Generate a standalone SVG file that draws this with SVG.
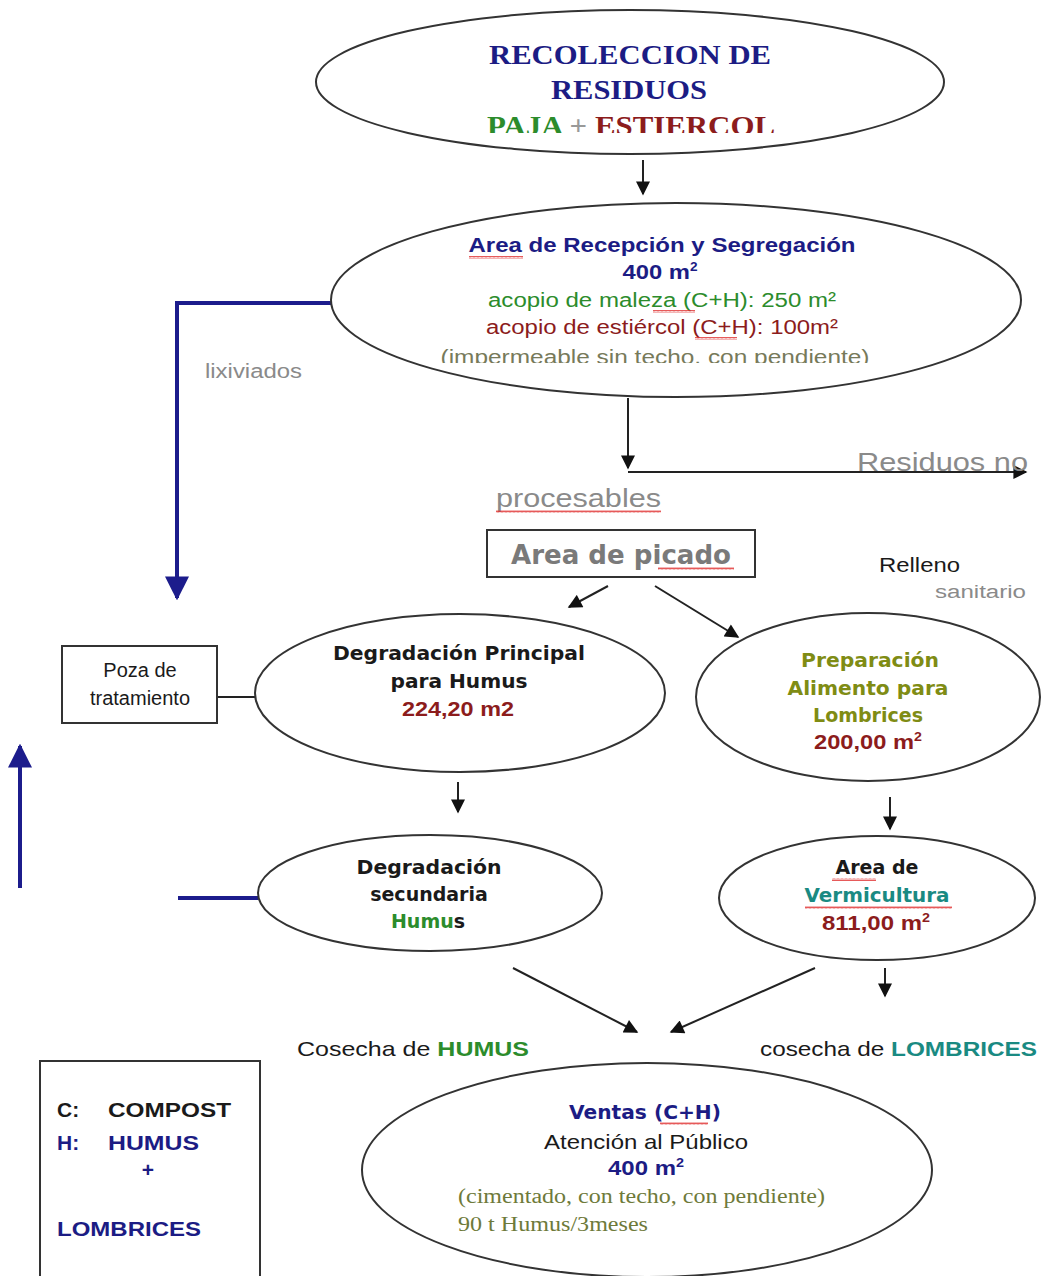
<svg xmlns="http://www.w3.org/2000/svg" width="1044" height="1276" viewBox="0 0 1044 1276">
  <style>
    .node { fill: #fff; stroke: #333; stroke-width: 2; }
    .box { fill: #fff; stroke: #333; stroke-width: 2; }
    .sans { font-family: "Liberation Sans", Arial, sans-serif; }
    .verd { font-family: "DejaVu Sans", Verdana, sans-serif; font-weight: bold; }
    .serif { font-family: "Liberation Serif", "Times New Roman", serif; }
    .b { font-weight: bold; }
    .navy { fill: #1c1c84; }
    .green { fill: #2c8c2c; }
    .red { fill: #8c1c1c; }
    .olive { fill: #7f8c14; }
    .teal { fill: #1a8a82; }
    .gray { fill: #8a8a8a; }
    .dark { fill: #1a1a1a; }
    .sage { fill: #6e7a3a; }
    .link { fill: none; stroke: #222; stroke-width: 2; }
    .blue { fill: none; stroke: #1c1c8c; stroke-width: 4; }
    .squig { fill: url(#wave); }
  </style>
  <defs>
    <marker id="ah" viewBox="0 0 10 10" refX="9" refY="5" markerWidth="15" markerHeight="14" markerUnits="userSpaceOnUse" orient="auto">
      <path d="M0,0 L10,5 L0,10 z" fill="#111"/>
    </marker>
    <marker id="ahb" viewBox="0 0 10 10" refX="9" refY="5" markerWidth="6" markerHeight="6" orient="auto">
      <path d="M0,0 L10,5 L0,10 z" fill="#1c1c8c"/>
    </marker>
    <pattern id="wave" width="4" height="3" patternUnits="userSpaceOnUse">
      <path d="M0,2.5 L1,0.5 L2,2.5 L3,0.5 L4,2.5" fill="none" stroke="#e03030" stroke-width="0.8"/>
    </pattern>
    <clipPath id="clipTop"><rect x="0" y="0" width="1044" height="133"/></clipPath>
    <clipPath id="clipRec"><rect x="0" y="0" width="1044" height="363"/></clipPath>
  </defs>

  <!-- connectors -->
  <g id="connectors">
    <line class="link" x1="643" y1="160" x2="643" y2="194" marker-end="url(#ah)"/>
    <polyline class="blue" points="331,303 177,303 177,598" marker-end="url(#ahb)"/>
    <line class="link" x1="628" y1="398" x2="628" y2="468" marker-end="url(#ah)"/>
    <line class="link" x1="628" y1="472" x2="1026" y2="472" marker-end="url(#ah)"/>
    <line class="link" x1="608" y1="586" x2="569" y2="607" marker-end="url(#ah)"/>
    <line class="link" x1="655" y1="586" x2="738" y2="637" marker-end="url(#ah)"/>
    <line class="link" x1="217" y1="697" x2="255" y2="697"/>
    <line class="link" x1="458" y1="782" x2="458" y2="812" marker-end="url(#ah)"/>
    <line class="link" x1="890" y1="797" x2="890" y2="829" marker-end="url(#ah)"/>
    <line class="blue" x1="20" y1="888" x2="20" y2="746" marker-end="url(#ahb)"/>
    <line class="blue" x1="178" y1="898" x2="258" y2="898"/>
    <line class="link" x1="885" y1="968" x2="885" y2="996" marker-end="url(#ah)"/>
    <line class="link" x1="815" y1="968" x2="671" y2="1032" marker-end="url(#ah)"/>
    <line class="link" x1="513" y1="968" x2="637" y2="1032" marker-end="url(#ah)"/>
  </g>

  <!-- free labels -->
  <g id="labels" class="sans">
    <text x="205" y="378" font-size="20" class="gray" textLength="97" lengthAdjust="spacingAndGlyphs">lixiviados</text>
    <text x="857" y="471" font-size="26" class="gray" textLength="171" lengthAdjust="spacingAndGlyphs">Residuos no</text>
    <text x="496" y="507" font-size="26" class="gray" textLength="165" lengthAdjust="spacingAndGlyphs">procesables</text>
    <rect class="squig" x="496" y="510" width="165" height="3"/>
    <text x="879" y="572" font-size="20" class="dark" textLength="81" lengthAdjust="spacingAndGlyphs">Relleno</text>
    <text x="935" y="598" font-size="18" class="gray" textLength="91" lengthAdjust="spacingAndGlyphs">sanitario</text>
    <text x="297" y="1056" font-size="21" textLength="232" lengthAdjust="spacingAndGlyphs"><tspan class="dark">Cosecha  de </tspan><tspan class="green b">HUMUS</tspan></text>
    <text x="760" y="1056" font-size="21" textLength="277" lengthAdjust="spacingAndGlyphs"><tspan class="dark">cosecha de </tspan><tspan class="teal b">LOMBRICES</tspan></text>
  </g>

  <!-- collection -->
  <g id="recoleccion">
    <ellipse class="node" cx="630" cy="82" rx="314" ry="72"/>
    <g class="serif b" text-anchor="middle" font-size="27">
      <text x="630" y="64" class="navy" textLength="282" lengthAdjust="spacingAndGlyphs">RECOLECCION DE</text>
      <text x="629" y="99" class="navy" textLength="156" lengthAdjust="spacingAndGlyphs">RESIDUOS</text>
      <text x="631" y="135" clip-path="url(#clipTop)" textLength="288" lengthAdjust="spacingAndGlyphs"><tspan class="green">PAJA</tspan><tspan fill="#999"> + </tspan><tspan class="red">ESTIERCOL</tspan></text>
    </g>
  </g>

  <!-- reception -->
  <g id="recepcion">
    <ellipse class="node" cx="676" cy="300" rx="345" ry="97"/>
    <g class="sans" text-anchor="middle">
      <text x="662" y="252" font-size="21" class="navy b" textLength="387" lengthAdjust="spacingAndGlyphs">Area de Recepción y Segregación</text>
      <text x="660" y="279" font-size="21" class="navy b" textLength="75" lengthAdjust="spacingAndGlyphs">400 m<tspan font-size="12" dy="-8">2</tspan></text>
      <text x="662" y="307" font-size="20" class="green" textLength="348" lengthAdjust="spacingAndGlyphs">acopio de maleza (C+H): 250 m²</text>
      <text x="662" y="334" font-size="20" class="red" textLength="352" lengthAdjust="spacingAndGlyphs">acopio de estiércol (C+H): 100m²</text>
      <text x="655" y="364" font-size="20" fill="#777a5a" clip-path="url(#clipRec)" textLength="429" lengthAdjust="spacingAndGlyphs">(impermeable sin techo, con pendiente)</text>
    </g>
    <rect class="squig" x="469" y="256" width="54" height="3"/>
    <rect class="squig" x="653" y="310" width="42" height="3"/>
    <rect class="squig" x="695" y="337" width="42" height="3"/>
  </g>

  <!-- chopping -->
  <g id="picado">
    <rect class="box" x="487" y="530" width="268" height="47"/>
    <text x="621" y="564" font-size="27" text-anchor="middle" class="verd" fill="#7a7a7a" textLength="220" lengthAdjust="spacingAndGlyphs">Area de picado</text>
    <rect class="squig" x="658" y="567" width="76" height="3"/>
  </g>

  <!-- treatment pond -->
  <g id="poza" class="sans">
    <rect class="box" x="62" y="646" width="155" height="77"/>
    <text x="140" y="677" font-size="20" text-anchor="middle" class="dark">Poza de</text>
    <text x="140" y="705" font-size="20" text-anchor="middle" class="dark">tratamiento</text>
  </g>

  <!-- primary degradation -->
  <g id="degradacion-principal">
    <ellipse class="node" cx="460" cy="693" rx="205" ry="79"/>
    <g text-anchor="middle">
      <text x="459" y="660" font-size="19" class="verd dark" textLength="252" lengthAdjust="spacingAndGlyphs">Degradación Principal</text>
      <text x="459" y="688" font-size="19" class="verd dark" textLength="137" lengthAdjust="spacingAndGlyphs">para Humus</text>
      <text x="458" y="716" font-size="20" class="sans b red" textLength="112" lengthAdjust="spacingAndGlyphs">224,20 m2</text>
    </g>
  </g>

  <!-- food preparation -->
  <g id="preparacion">
    <ellipse class="node" cx="868" cy="697" rx="172" ry="84"/>
    <g text-anchor="middle">
      <text x="870" y="667" font-size="19" class="verd olive" textLength="138" lengthAdjust="spacingAndGlyphs">Preparación</text>
      <text x="868" y="695" font-size="19" class="verd olive" textLength="161" lengthAdjust="spacingAndGlyphs">Alimento para</text>
      <text x="868" y="722" font-size="19" class="verd olive">Lombrices</text>
      <text x="868" y="749" font-size="20" class="sans b red" textLength="108" lengthAdjust="spacingAndGlyphs">200,00 m<tspan font-size="12" dy="-8">2</tspan></text>
    </g>
  </g>

  <!-- secondary degradation -->
  <g id="degradacion-secundaria">
    <ellipse class="node" cx="430" cy="893" rx="172" ry="58"/>
    <g text-anchor="middle" font-size="19">
      <text x="429" y="874" class="verd dark" textLength="145" lengthAdjust="spacingAndGlyphs">Degradación</text>
      <text x="429" y="901" class="verd dark">secundaria</text>
      <text x="428" y="928" class="verd"><tspan class="green">Humu</tspan><tspan class="dark">s</tspan></text>
    </g>
  </g>

  <!-- vermiculture -->
  <g id="vermicultura">
    <ellipse class="node" cx="877" cy="898" rx="158" ry="62"/>
    <g text-anchor="middle" font-size="19">
      <text x="877" y="874" class="verd dark">Area de</text>
      <text x="877" y="902" class="verd teal" textLength="145" lengthAdjust="spacingAndGlyphs">Vermicultura</text>
      <text x="876" y="930" font-size="20" class="sans b red" textLength="108" lengthAdjust="spacingAndGlyphs">811,00 m<tspan font-size="12" dy="-8">2</tspan></text>
    </g>
    <rect class="squig" x="832" y="878" width="44" height="3"/>
    <rect class="squig" x="805" y="906" width="147" height="3"/>
  </g>

  <!-- sales -->
  <g id="ventas">
    <ellipse class="node" cx="647" cy="1170" rx="285" ry="107"/>
    <g text-anchor="middle">
      <text x="645" y="1119" font-size="20" class="verd navy" textLength="152" lengthAdjust="spacingAndGlyphs">Ventas (C+H)</text>
      <text x="646" y="1149" font-size="21" class="sans dark" textLength="204" lengthAdjust="spacingAndGlyphs">Atención al Público</text>
      <text x="646" y="1175" font-size="20" class="sans b navy" textLength="76" lengthAdjust="spacingAndGlyphs">400 m<tspan font-size="12" dy="-8">2</tspan></text>
    </g>
    <text x="458" y="1203" font-size="20" class="serif sage" textLength="367" lengthAdjust="spacingAndGlyphs">(cimentado, con techo, con pendiente)</text>
    <text x="458" y="1231" font-size="20" class="serif sage" textLength="190" lengthAdjust="spacingAndGlyphs">90 t Humus/3meses</text>
    <rect class="squig" x="660" y="1122" width="48" height="3"/>
  </g>

  <!-- legend -->
  <g id="leyenda" class="sans b" font-size="21">
    <rect class="box" x="40" y="1061" width="220" height="222"/>
    <text x="57" y="1117" class="dark">C:</text>
    <text x="108" y="1117" class="dark" textLength="123" lengthAdjust="spacingAndGlyphs">COMPOST</text>
    <text x="57" y="1150" class="navy">H:</text>
    <text x="108" y="1150" class="navy" textLength="91" lengthAdjust="spacingAndGlyphs">HUMUS</text>
    <text x="148" y="1177" class="navy" text-anchor="middle">+</text>
    <text x="57" y="1236" class="navy" textLength="144" lengthAdjust="spacingAndGlyphs">LOMBRICES</text>
  </g>
</svg>
